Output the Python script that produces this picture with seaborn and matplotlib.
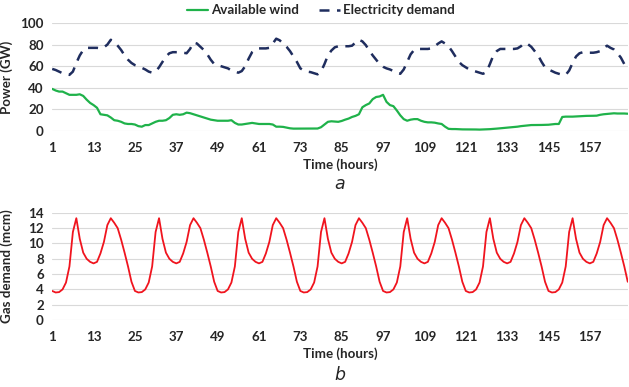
import matplotlib
matplotlib.use("Agg")
import matplotlib.pyplot as plt
import pandas as pd
import seaborn as sns

# hourly values (hours 1..168)
hours = list(range(1, 169))

wind = [
    39, 37.5, 36.5, 36.5, 35, 33.5, 33.5, 33.5, 34, 32.5, 29, 26, 24, 21.5, 15.5, 15, 14.5, 12.5, 10, 9.5, 8.5, 7, 6.5, 6.5,
    6, 4.5, 4, 5.5, 5.5, 7, 8.5, 9.5, 9.5, 10, 12, 15, 15.5, 15, 15.5, 17, 16.5, 15.5, 14.5, 13.5, 12.5, 11.5, 10.5, 10,
    9.5, 9.5, 9.5, 9.5, 10, 7.5, 6, 6, 6.5, 7, 7.5, 7, 6.5, 6.5, 6.5, 6.5, 6, 4, 4, 3.8, 3.2, 2.5, 2.2, 2.2,
    2.2, 2.2, 2.2, 2.2, 2.2, 2.3, 3.5, 6, 8.5, 9, 8.7, 8.5, 9.3, 10.5, 11.5, 13, 14, 15.5, 22, 24, 25.5, 29.5, 31.5, 32,
    33.5, 27, 24, 23, 19, 14.5, 11, 9.5, 10.5, 11, 11, 9.5, 8.5, 8, 8, 7.7, 7, 6.5, 4, 2, 1.8, 1.8, 1.6, 1.5,
    1.5, 1.5, 1.5, 1.4, 1.3, 1.4, 1.5, 1.7, 1.9, 2.2, 2.5, 2.8, 3.1, 3.4, 3.7, 4, 4.5, 4.8, 5.2, 5.5, 5.5, 5.6, 5.6, 5.7,
    5.8, 6.2, 6.5, 6.5, 13, 13.3, 13.3, 13.3, 13.5, 13.6, 13.8, 14, 14, 14.1, 14.2, 15, 15.5, 15.8, 16.2, 16.4, 16.2, 16.2, 16.2, 16,
]

demand = [
    57.5, 56.5, 55, 53.5, 52.5, 52, 55, 63, 70, 75, 77, 77, 77, 77, 76.5, 77.5, 80, 84.5, 82.5, 79, 75, 70, 66, 63,
    61, 60, 58.5, 57, 55, 54, 55, 59, 64, 69, 72, 73, 73, 73, 72.5, 72, 76, 82, 81, 78, 75, 71, 66, 62,
    61, 60, 59, 58, 56, 55, 54, 55.5, 60, 67, 73, 75.5, 76.5, 76.5, 76.5, 77, 81, 85.5, 84, 81, 78, 74, 69, 64,
    58, 56, 55, 54.5, 53.5, 52.5, 55, 62, 70, 74.5, 77.5, 78.5, 78.5, 78.5, 78.5, 79, 82, 84.5, 83, 79.5, 74.5, 70, 66, 62,
    59.5, 58, 57, 55.5, 54, 53, 57, 64, 71, 75, 76, 76, 76, 76, 76.5, 78.5, 81, 83, 81, 78.5, 74, 69, 64, 61,
    59, 57, 56, 55, 54, 53, 54.5, 62, 70, 74, 76, 76, 76, 76, 76, 76.5, 78.5, 81.5, 80.5, 78, 74, 70, 64, 59,
    57, 55.5, 54, 53, 52, 52, 56, 63, 69, 72, 73, 73, 72.5, 72.5, 73, 74, 77, 79, 77, 75.5, 72, 68, 62, 56.5,
]

gas = [
    3.8, 3.6, 3.65, 4.0, 4.9, 7.0, 11.5, 13.3, 10.6, 8.8, 8.0, 7.6, 7.4, 7.6, 8.7, 10.2, 12.4, 13.3, 12.7, 12.0, 10.5, 8.8, 7.0, 5.0,
    3.8, 3.6, 3.65, 4.0, 4.9, 7.0, 11.5, 13.3, 10.6, 8.8, 8.0, 7.6, 7.4, 7.6, 8.7, 10.2, 12.4, 13.3, 12.7, 12.0, 10.5, 8.8, 7.0, 5.0,
    3.8, 3.6, 3.65, 4.0, 4.9, 7.0, 11.5, 13.3, 10.6, 8.8, 8.0, 7.6, 7.4, 7.6, 8.7, 10.2, 12.4, 13.3, 12.7, 12.0, 10.5, 8.8, 7.0, 5.0,
    3.8, 3.6, 3.65, 4.0, 4.9, 7.0, 11.5, 13.3, 10.6, 8.8, 8.0, 7.6, 7.4, 7.6, 8.7, 10.2, 12.4, 13.3, 12.7, 12.0, 10.5, 8.8, 7.0, 5.0,
    3.8, 3.6, 3.65, 4.0, 4.9, 7.0, 11.5, 13.3, 10.6, 8.8, 8.0, 7.6, 7.4, 7.6, 8.7, 10.2, 12.4, 13.3, 12.7, 12.0, 10.5, 8.8, 7.0, 5.0,
    3.8, 3.6, 3.65, 4.0, 4.9, 7.0, 11.5, 13.3, 10.6, 8.8, 8.0, 7.6, 7.4, 7.6, 8.7, 10.2, 12.4, 13.3, 12.7, 12.0, 10.5, 8.8, 7.0, 5.0,
    3.8, 3.6, 3.65, 4.0, 4.9, 7.0, 11.5, 13.3, 10.6, 8.8, 8.0, 7.6, 7.4, 7.6, 8.7, 10.2, 12.4, 13.3, 12.7, 12.0, 10.5, 8.8, 7.0, 5.0,
]

x_ticks = list(range(1, 169, 12))
x_grid = list(range(1, 169, 24))

GREEN = "#1fb24a"
NAVY = "#1f2d5e"
RED = "#f0141e"
GRID = "#d9d9d9"
FS = 9.6

sns.set_style("white")
plt.rcParams["font.family"] = ["Lato", "DejaVu Sans"]


def style_axes(ax, ymax, ystep, ylabel):
    ax.set_xlim(1, 168)
    ax.set_ylim(0, ymax)
    ax.set_xticks(x_ticks)
    ax.set_xticklabels([str(t) for t in x_ticks], fontsize=FS, fontweight="bold")
    ax.set_xticks(x_grid, minor=True)
    yt = list(range(0, ymax + 1, ystep))
    ax.set_yticks(yt)
    ax.set_yticklabels([str(t) for t in yt], fontsize=FS, fontweight="bold")
    ax.grid(which="major", axis="y", color=GRID, lw=0.8)
    ax.grid(which="minor", axis="x", color=GRID, lw=0.8)
    ax.set_axisbelow(True)
    ax.tick_params(which="both", length=0)
    ax.tick_params(axis="y", pad=6)
    ax.tick_params(axis="x", pad=8)
    for s in ax.spines.values():
        s.set_visible(False)
    ax.set_xlabel("Time (hours)", fontsize=FS, fontweight="bold", labelpad=3)
    ax.set_ylabel(ylabel, fontsize=FS, fontweight="bold")
    ax.yaxis.set_label_coords(-0.068, 0.5)


fig = plt.figure(figsize=(6.29, 3.87), dpi=100)
ax1 = fig.add_axes([0.083, 0.6615, 0.915, 0.279])
ax2 = fig.add_axes([0.083, 0.173, 0.915, 0.277])

power = pd.DataFrame({"hour": hours, "wind": wind, "demand": demand})
sns.lineplot(data=power, x="hour", y="wind", ax=ax1, color=GREEN, lw=1.6,
             label="Available wind")
sns.lineplot(data=power, x="hour", y="demand", ax=ax1, color=NAVY, lw=1.8,
             dashes=False, label="Electricity demand")
ax1.lines[1].set_dashes([4, 3])
style_axes(ax1, 100, 20, "Power (GW)")
handles, labels = ax1.get_legend_handles_labels()
ax1.legend_.remove()
fig.legend(handles, labels, loc="upper center", bbox_to_anchor=(0.51, 1.02), ncol=2,
           frameon=False, handlelength=1.6, handletextpad=0.2, columnspacing=1.5,
           prop={"size": FS, "weight": "bold"})

gas_df = pd.DataFrame({"hour": hours, "gas": gas})
sns.lineplot(data=gas_df, x="hour", y="gas", ax=ax2, color=RED, lw=1.3)
style_axes(ax2, 14, 2, "Gas demand (mcm)")

fig.text(0.54, 0.525, "a", fontsize=12.5, style="italic", ha="center", va="center",
         family="DejaVu Sans")
fig.text(0.54, 0.03, "b", fontsize=12.5, style="italic", ha="center", va="center",
         family="DejaVu Sans")

fig.savefig("out.png", dpi=100)
